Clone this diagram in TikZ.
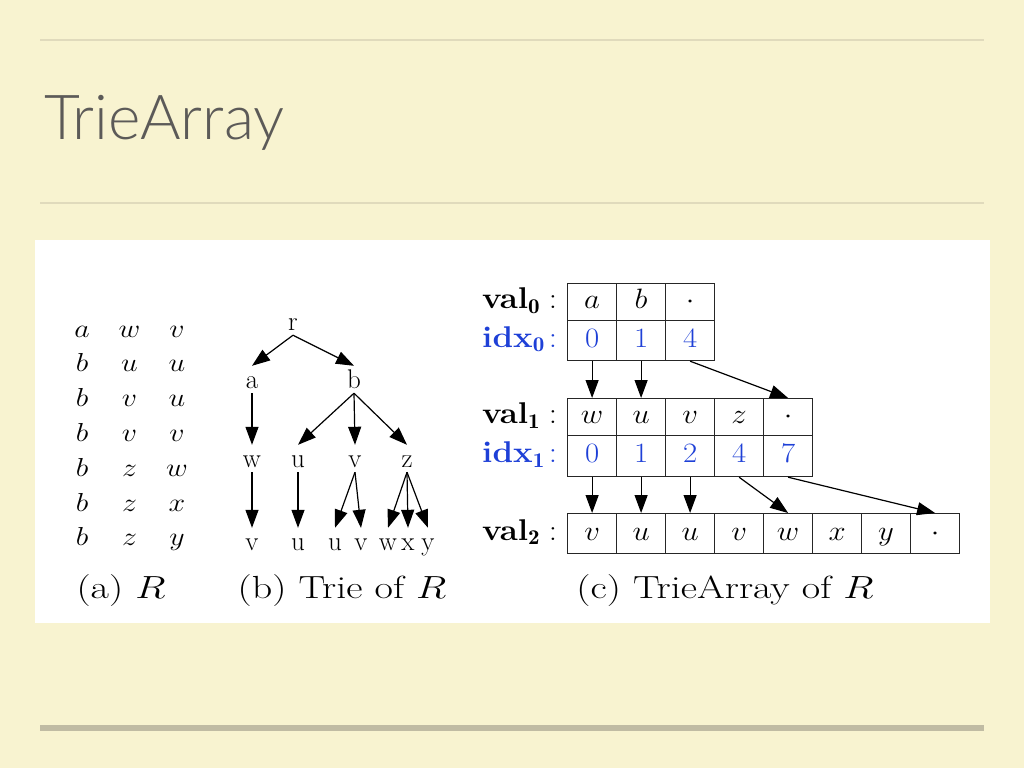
\RequirePackage{fix-cm}
\documentclass[tikz,border=0pt]{standalone}
\usepackage{amsmath,amssymb}
\usepackage{xcolor}
\usepackage{fontspec}
\newfontfamily\titlefont{Lato Light}
\usepackage{tikz}
\usetikzlibrary{arrows.meta,positioning,calc}

\definecolor{slidebg}{RGB}{248,243,208}
\definecolor{ruleline}{RGB}{224,218,188}
\definecolor{footline}{RGB}{192,187,163}
\definecolor{titlegray}{RGB}{92,90,88}
\definecolor{idxblue}{RGB}{30,64,215}

\newcommand{\wide}[1]{\scalebox{1.1}[1]{#1}}
\newcommand{\fsz}[1]{\fontsize{#1}{#1}\selectfont}

\begin{document}
\begin{tikzpicture}[x=1pt,y=-1pt,
    rel/.style={anchor=base,inner sep=0pt,xscale=1.15,font=\fsz{26}},
    subcap/.style={anchor=base,inner sep=0pt,xscale=1.25,font=\fsz{32}},
    tnode/.style={anchor=base,inner sep=3pt,text height=19pt,text depth=2pt,font=\fsz{27}},
    cell/.style={draw=black!85,line width=1.2pt,anchor=north west,minimum width=49pt,minimum height=#1,
      inner sep=0pt,text height=19pt,text depth=6pt,font=\fsz{28}},
    idx/.style={text=idxblue},
    lab/.style={anchor=base west,inner sep=0pt,xscale=1.1,text width=68pt,font=\fsz{30}\bfseries},
    link/.style={-{Triangle[length=18pt,width=13pt]},line width=1.2pt}
  ]
  % slide
  \fill[slidebg] (0,0) rectangle (1024,768);
  \draw[ruleline,line width=1.5pt] (40,40) -- (984,40);
  \draw[ruleline,line width=1.5pt] (40,203) -- (984,203);
  \draw[footline,line width=5.5pt] (40,728) -- (984,728);
  \node[anchor=base west,inner sep=0pt,font=\titlefont\fsz{62},text=titlegray] (title) at (44,139) {TrieArray};
  \fill[white] (35,240) rectangle (990,623);

  % (a) the relation R
  \foreach \row [count=\k from 0] in {{a,w,v},{b,u,u},{b,v,u},{b,v,v},{b,z,w},{b,z,x},{b,z,y}}{
    \foreach \c [count=\j from 0] in \row
      \node[rel] (rel\k-\j) at (82+47.5*\j,337+34.8*\k) {$\c$};
  }
  \node[subcap] (capa) at (121,598) {(a)~$R$};

  % (b) the trie
  \node[tnode] (tr) at (293,330) {r};
  \node[tnode] (ta) at (252,388) {a};
  \node[tnode] (tb) at (354,388) {b};
  \foreach \n/\x in {w/252,u/298,v/355,z/407}
    \node[tnode] (t\n) at (\x,467) {\n};
  \foreach \n/\x/\t in {1/252/v,2/298/u,3/335/u,4/361/v,5/388/w,6/408/x,7/428/y}
    \node[tnode] (leaf\n) at (\x,550) {\t};
  \foreach \s/\e in {tr/ta,tr/tb,ta/tw,tb/tu,tb/tv,tb/tz,tw/leaf1,tu/leaf2,tv/leaf3,tv/leaf4,tz/leaf5,tz/leaf6,tz/leaf7}
    \draw[link] (\s.south) -- (\e.north);
  \node[subcap] (capb) at (342,598) {(b)~Trie of $R$};

  % (c) the TrieArray
  \foreach \t [count=\j from 0] in {a,b,\cdot}
    \node[cell=37pt] (v0-\j) at (567+49*\j,283) {\wide{$\t$}};
  \foreach \t [count=\j from 0] in {0,1,4}
    \node[cell=40pt,idx] (i0-\j) at (567+49*\j,320) {\wide{$\t$}};
  \foreach \t [count=\j from 0] in {w,u,v,z,\cdot}
    \node[cell=37pt] (v1-\j) at (567+49*\j,398) {\wide{$\t$}};
  \foreach \t [count=\j from 0] in {0,1,2,4,7}
    \node[cell=41pt,idx] (i1-\j) at (567+49*\j,435) {\wide{$\t$}};
  \foreach \t [count=\j from 0] in {v,u,u,v,w,x,y,\cdot}
    \node[cell=40pt] (v2-\j) at (567+49*\j,513) {\wide{$\t$}};

  \node[lab] (lv0) at (482,0 |- v0-0.base) {val$_{\mathbf 0}$\hfill\textnormal{:}};
  \node[lab,idx] (li0) at (482,0 |- i0-0.base) {idx$_{\mathbf 0}$\hfill\textnormal{:}};
  \node[lab] (lv1) at (482,0 |- v1-0.base) {val$_{\mathbf 1}$\hfill\textnormal{:}};
  \node[lab,idx] (li1) at (482,0 |- i1-0.base) {idx$_{\mathbf 1}$\hfill\textnormal{:}};
  \node[lab] (lv2) at (482,0 |- v2-0.base) {val$_{\mathbf 2}$\hfill\textnormal{:}};

  \foreach \a/\b in {0/0,1/1,2/4}
    \draw[link] (i0-\a.south) -- (v1-\b.north);
  \foreach \a/\b in {0/0,1/1,2/2,3/4,4/7}
    \draw[link] (i1-\a.south) -- (v2-\b.north);
  \node[subcap] (capc) at (725,598) {(c)~TrieArray of $R$};
\end{tikzpicture}
\end{document}
